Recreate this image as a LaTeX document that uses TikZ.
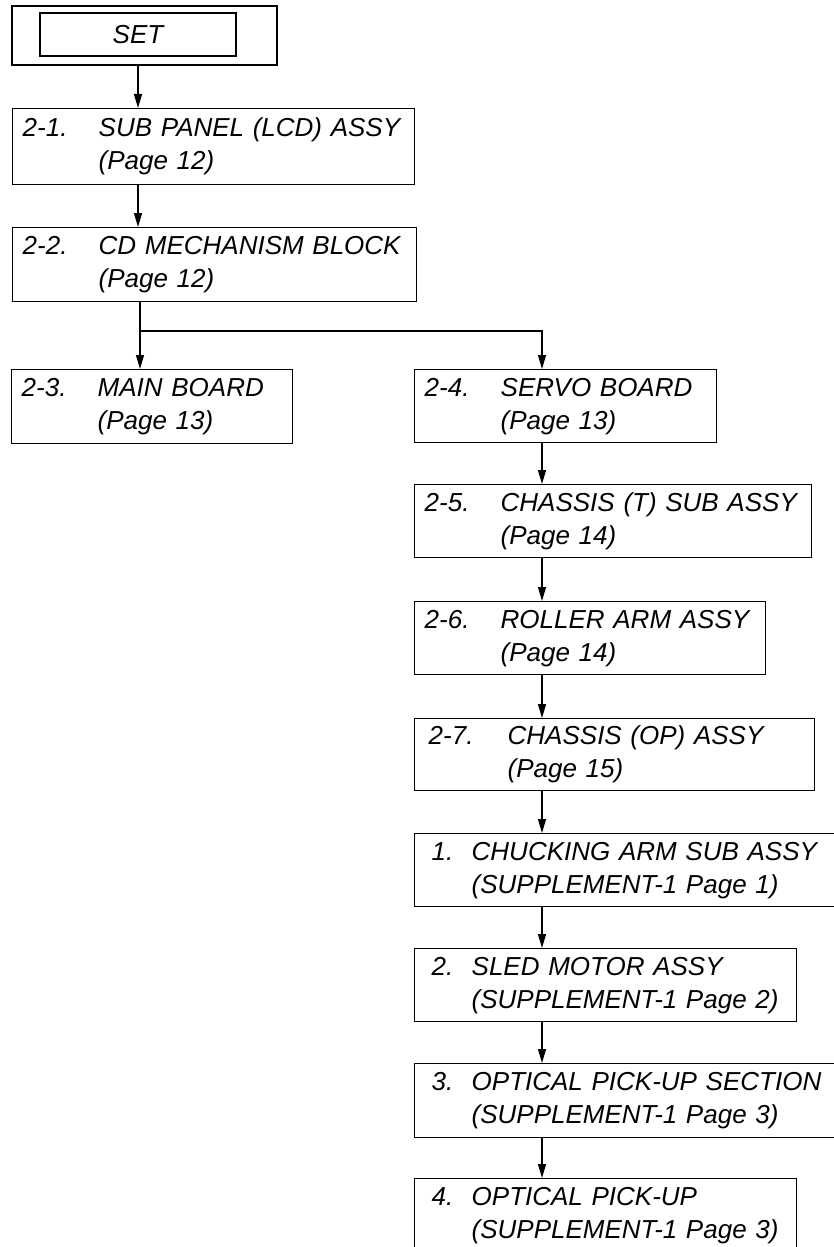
\documentclass[tikz,border=0pt]{standalone}
\usepackage{fontspec}
\setmainfont{Liberation Sans}
\usetikzlibrary{arrows.meta}
\tikzset{
  stepbox/.style = {draw, rectangle, anchor=north west, inner xsep=5pt,
                    inner ysep=0pt, align=left, minimum height=37pt,
                    font=\itshape\fontsize{13}{16.5}\selectfont},
  setbox/.style  = {draw, rectangle, inner sep=0pt,
                    font=\itshape\fontsize{13}{16.5}\selectfont},
  ar/.style      = {-{Triangle[length=7pt, width=4pt]}},
}
% number column, title, page reference
\newcommand{\steplbl}[4][38pt]{%
  \begin{tabular}{@{}p{#1}@{}l@{}}#2 & #3\\ & #4\end{tabular}}

\begin{document}
\begin{tikzpicture}[x=0.5pt, y=-0.5pt, line width=0.7pt]
  \useasboundingbox (0,0) rectangle (834,1247);
  \clip (0,0) rectangle (834,1247);
  % set
  \node[setbox, minimum width=132.5pt, minimum height=29.5pt] (set) at (144.5,35.5) {};
  \node[setbox, minimum width=98pt, minimum height=21.5pt] (setin) at (138,34.5) {SET};
  % left column
  \node[stepbox, text width=191pt, minimum height=38pt] (s21) at (12,108)
    {\steplbl{2-1.}{SUB PANEL (LCD) ASSY}{(Page 12)}};
  \node[stepbox, text width=192pt] (s22) at (12,227)
    {\steplbl{2-2.}{CD MECHANISM BLOCK}{(Page 12)}};
  \node[stepbox, text width=130.5pt] (s23) at (11,369)
    {\steplbl{2-3.}{MAIN BOARD}{(Page 13)}};
  % right column
  \node[stepbox, text width=141pt, minimum height=36.5pt] (s24) at (414,369)
    {\steplbl{2-4.}{SERVO BOARD}{(Page 13)}};
  \node[stepbox, text width=188.5pt, minimum height=36.5pt] (s25) at (414,484)
    {\steplbl{2-5.}{CHASSIS (T) SUB ASSY}{(Page 14)}};
  \node[stepbox, text width=165.5pt, minimum height=36.5pt] (s26) at (414,601)
    {\steplbl{2-6.}{ROLLER ARM ASSY}{(Page 14)}};
  \node[stepbox, inner xsep=7pt, text width=186pt, minimum height=36pt] (s27) at (414,718)
    {\steplbl[39.5pt]{2-7.}{CHASSIS (OP) ASSY}{(Page 15)}};
  % supplement steps
  \node[stepbox, inner xsep=8.5pt, text width=213pt, minimum height=36.5pt] (p1) at (414,833)
    {\steplbl[20pt]{1.}{CHUCKING ARM SUB ASSY}{(SUPPLEMENT-1 Page 1)}};
  \node[stepbox, inner xsep=8.5pt, text width=174pt, minimum height=36.5pt] (p2) at (414,948)
    {\steplbl[20pt]{2.}{SLED MOTOR ASSY}{(SUPPLEMENT-1 Page 2)}};
  \node[stepbox, inner xsep=8.5pt, text width=213pt] (p3) at (414,1063)
    {\steplbl[20pt]{3.}{OPTICAL PICK-UP SECTION}{(SUPPLEMENT-1 Page 3)}};
  \node[stepbox, inner xsep=8.5pt, text width=174pt] (p4) at (414,1178)
    {\steplbl[20pt]{4.}{OPTICAL PICK-UP}{(SUPPLEMENT-1 Page 3)}};
  % connectors
  \coordinate (br) at (140,331);
  \coordinate (col) at (542,331);
  \draw[ar] (set.south -| setin) -- (s21.north -| setin);
  \draw[ar] (s21.south -| setin) -- (s22.north -| setin);
  \draw (s22.south -| br) -- (br);
  \draw[ar] (br) -- (s23.north -| br);
  \draw[ar] (br) -- (col) -- (s24.north -| col);
  \foreach \a/\b in {s24/s25, s25/s26, s26/s27, s27/p1, p1/p2, p2/p3, p3/p4}
    \draw[ar] (\a.south -| col) -- (\b.north -| col);
\end{tikzpicture}
\end{document}
